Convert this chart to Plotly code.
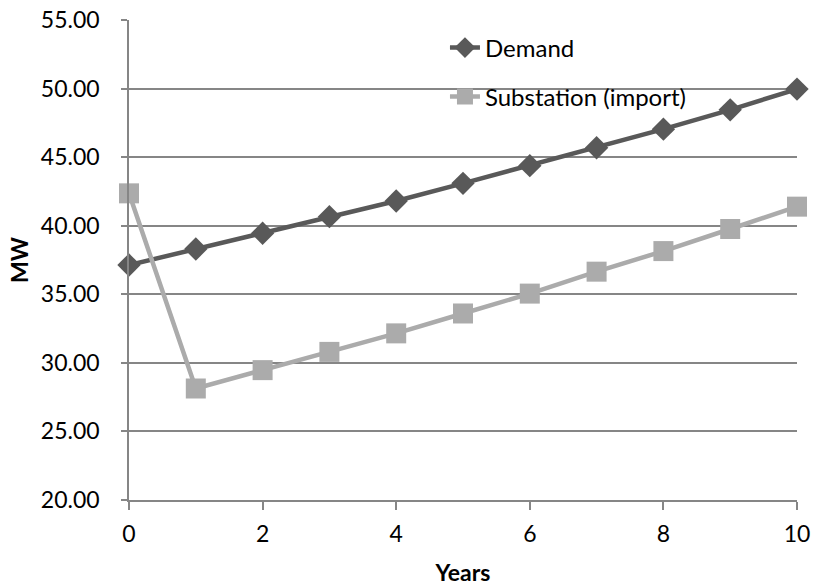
import plotly.graph_objects as go

years = [0, 1, 2, 3, 4, 5, 6, 7, 8, 9, 10]
demand = [37.13, 38.3, 39.45, 40.66, 41.8, 43.09, 44.38, 45.69, 47.04, 48.45, 49.96]
substation = [42.36, 28.13, 29.47, 30.8, 32.15, 33.6, 35.05, 36.65, 38.15, 39.76, 41.39]
y_ticks = [20, 25, 30, 35, 40, 45, 50, 55]
x_ticks = [0, 2, 4, 6, 8, 10]

FONT = "Lato, 'Open Sans', sans-serif"
AXIS_GREY = "#868686"

fig = go.Figure()
fig.add_trace(go.Scatter(
    x=years, y=demand, name="Demand", mode="lines+markers",
    line=dict(color="#595959", width=4.5),
    marker=dict(symbol="diamond", size=18, color="#595959"),
    cliponaxis=False, legend="legend", showlegend=True,
))
fig.add_trace(go.Scatter(
    x=years, y=substation, name="Substation (import)", mode="lines+markers",
    line=dict(color="#ababab", width=4.5),
    marker=dict(symbol="square", size=20, color="#ababab"),
    cliponaxis=False, legend="legend2", showlegend=True,
))

legend_style = dict(
    xanchor="left", yanchor="middle",
    bgcolor="rgba(0,0,0,0)", font=dict(size=24),
    itemwidth=30, borderwidth=0, visible=True,
)

fig.update_layout(
    width=814, height=587,
    margin=dict(l=129, r=17, t=20, b=87),
    paper_bgcolor="white", plot_bgcolor="white",
    font=dict(family=FONT, size=23, color="black"),
    showlegend=True,
    legend=dict(x=0.473, y=0.9417, **legend_style),
    legend2=dict(x=0.473, y=0.8396, **legend_style),
    xaxis=dict(
        range=[0, 10], tickvals=x_ticks, ticktext=[str(v) for v in x_ticks],
        showgrid=False, zeroline=False, automargin=False,
        showline=True, linecolor=AXIS_GREY, linewidth=1.5,
        ticks="outside", ticklen=8, tickcolor=AXIS_GREY, tickwidth=1.5,
        ticklabelstandoff=5,
        title=dict(text="<b>Years</b>", font=dict(size=23), standoff=19),
    ),
    yaxis=dict(
        range=[20, 55], tickvals=y_ticks, ticktext=[f"{v:.2f}" for v in y_ticks],
        showgrid=True, gridcolor=AXIS_GREY, gridwidth=1.5, zeroline=False,
        automargin=False,
        showline=True, linecolor=AXIS_GREY, linewidth=1.5,
        ticks="outside", ticklen=6, tickcolor=AXIS_GREY, tickwidth=1.5,
        ticklabelstandoff=17,
        title=dict(text="<b>MW</b>", font=dict(size=23), standoff=6),
    ),
)

fig.write_html("out.html")
